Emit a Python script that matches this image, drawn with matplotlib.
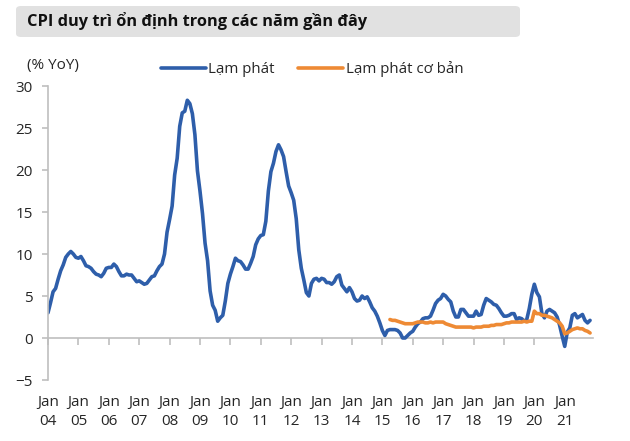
import numpy as np
import matplotlib
matplotlib.use("Agg")
import matplotlib.pyplot as plt
from matplotlib.patches import FancyBboxPatch

plt.rcParams['font.family'] = ['Open Sans', 'DejaVu Sans']

# ---- data (monthly, % YoY) ----
START_CPI = 2004          # Jan 2004
START_CORE = 2015 + 3/12  # Apr 2015

cpi = [
    3.0, 4.2, 5.5, 5.9, 7.0, 8.0, 8.7, 9.6, 10.0, 10.3, 10.0, 9.6,      # 2004
    9.5, 9.7, 9.2, 8.6, 8.5, 8.3, 7.9, 7.6, 7.5, 7.3, 7.7, 8.3,         # 2005
    8.4, 8.4, 8.8, 8.5, 7.9, 7.4, 7.4, 7.6, 7.5, 7.5, 7.1, 6.7,         # 2006
    6.8, 6.6, 6.4, 6.5, 6.9, 7.3, 7.4, 8.0, 8.5, 8.8, 10.0, 12.6,       # 2007
    14.1, 15.7, 19.4, 21.4, 25.2, 26.8, 27.0, 28.3, 27.9, 26.7, 24.2, 19.9,  # 2008
    17.5, 14.8, 11.3, 9.2, 5.6, 3.9, 3.3, 2.0, 2.4, 2.7, 4.4, 6.5,      # 2009
    7.6, 8.5, 9.5, 9.2, 9.1, 8.7, 8.2, 8.2, 8.9, 9.7, 11.1, 11.8,       # 2010
    12.2, 12.3, 13.9, 17.5, 19.8, 20.8, 22.2, 23.0, 22.4, 21.6, 19.8, 18.1,  # 2011
    17.3, 16.4, 14.2, 10.5, 8.3, 6.9, 5.4, 5.0, 6.5, 7.0, 7.1, 6.8,     # 2012
    7.1, 7.0, 6.6, 6.6, 6.4, 6.7, 7.3, 7.5, 6.3, 5.9, 5.5, 6.0,         # 2013
    5.5, 4.7, 4.4, 4.5, 5.0, 4.7, 4.9, 4.3, 3.6, 3.2, 2.6, 1.8,         # 2014
    0.9, 0.3, 0.9, 1.0, 1.0, 1.0, 0.9, 0.6, 0.0, 0.0, 0.3, 0.6,         # 2015
    0.8, 1.3, 1.7, 1.9, 2.3, 2.4, 2.4, 2.6, 3.3, 4.1, 4.5, 4.7,         # 2016
    5.2, 5.0, 4.6, 4.3, 3.2, 2.5, 2.5, 3.4, 3.4, 3.0, 2.6, 2.6,         # 2017
    2.6, 3.2, 2.7, 2.8, 3.9, 4.7, 4.5, 4.3, 4.0, 3.9, 3.5, 3.0,         # 2018
    2.6, 2.6, 2.7, 2.9, 2.9, 2.2, 2.4, 2.3, 2.0, 2.2, 3.5, 5.2,         # 2019
    6.4, 5.4, 4.9, 2.9, 2.4, 3.2, 3.4, 3.2, 3.0, 2.5, 1.5, 0.2,         # 2020
    -1.0, 0.7, 1.2, 2.7, 2.9, 2.4, 2.6, 2.8, 2.1, 1.8, 2.1,             # 2021
]

core = [
    2.2, 2.1, 2.1, 2.0, 1.9, 1.8, 1.7, 1.7, 1.7,                        # 2015
    1.7, 1.8, 1.9, 1.9, 1.9, 1.8, 1.8, 1.9, 1.8, 1.9, 1.9, 1.9,         # 2016
    1.9, 1.7, 1.6, 1.5, 1.4, 1.3, 1.3, 1.3, 1.3, 1.3, 1.3, 1.3,         # 2017
    1.2, 1.3, 1.3, 1.3, 1.4, 1.4, 1.4, 1.5, 1.5, 1.6, 1.6, 1.6,         # 2018
    1.7, 1.8, 1.8, 1.9, 1.9, 1.9, 1.9, 1.9, 2.0, 1.9, 2.0, 2.0,         # 2019
    3.2, 2.9, 2.9, 2.7, 2.7, 2.6, 2.5, 2.4, 2.2, 2.0, 1.8, 1.4,         # 2020
    0.5, 0.6, 0.8, 1.0, 1.1, 1.2, 1.1, 1.1, 0.9, 0.8, 0.6,              # 2021
]

years = list(range(2004, 2022))
year_labels = ['Jan\n%02d' % (y % 100) for y in years]

x_cpi = START_CPI + np.arange(len(cpi)) / 12
x_core = START_CORE + np.arange(len(core)) / 12

BLUE = '#2e5eaa'
ORANGE = '#ee8a34'
GRID = '#bfbfbf'
TXT = '#262626'

# ---- figure ----
fig = plt.figure(figsize=(6.3, 4.41), dpi=100)

# title box
box = FancyBboxPatch((16/630, 1 - 37/441), 504/630, 31/441,
                     boxstyle='round,pad=0,rounding_size=0.008',
                     transform=fig.transFigure, facecolor='#e1e1e1',
                     edgecolor='none')
fig.patches.append(box)
fig.text(27/630, 1 - 21/441, 'CPI duy trì ổn định trong các năm gần đây',
         fontsize=11.8, fontweight='bold', color='#111111', va='center')

ax = fig.add_axes([48/630, 1 - 380/441, 545/630, 294/441])

ax.plot(x_cpi, cpi, color=BLUE, lw=2.6, label='Lạm phát', solid_capstyle='round')
ax.plot(x_core, core, color=ORANGE, lw=2.6, label='Lạm phát cơ bản', solid_capstyle='round')

ax.set_ylim(-5, 30)
ax.set_xlim(2004, 2021.93)
ax.set_yticks(np.arange(-5, 31, 5))

for s in ['top', 'right', 'bottom']:
    ax.spines[s].set_visible(False)
ax.spines['left'].set_color(GRID)
ax.spines['left'].set_linewidth(1.2)

ax.tick_params(axis='y', direction='out', length=4.5, color=GRID, width=1.2,
               labelsize=11, labelcolor=TXT, pad=6.5)
ax.set_xticks(years)
ax.set_xticklabels(year_labels, linespacing=1.3)
ax.tick_params(axis='x', length=0, labelsize=11, labelcolor=TXT, pad=11)

# zero line with tick marks
sec = ax.secondary_xaxis(5/35)
sec.set_xticks(years)
sec.set_xticklabels([])
sec.spines['bottom'].set_color(GRID)
sec.spines['bottom'].set_linewidth(1.2)
sec.tick_params(axis='x', direction='out', length=5, color=GRID, width=1.2)

fig.text(27/630, 1 - 66/441, '(% YoY)', fontsize=11, color=TXT, va='center')

ax.legend(loc='center', bbox_to_anchor=(312/630, 1 - 69/441),
          bbox_transform=fig.transFigure, ncol=2, frameon=False,
          fontsize=10.8, handlelength=3.0, handletextpad=0.15,
          columnspacing=1.6, labelcolor=TXT)

fig.savefig('out.png', dpi=100)
